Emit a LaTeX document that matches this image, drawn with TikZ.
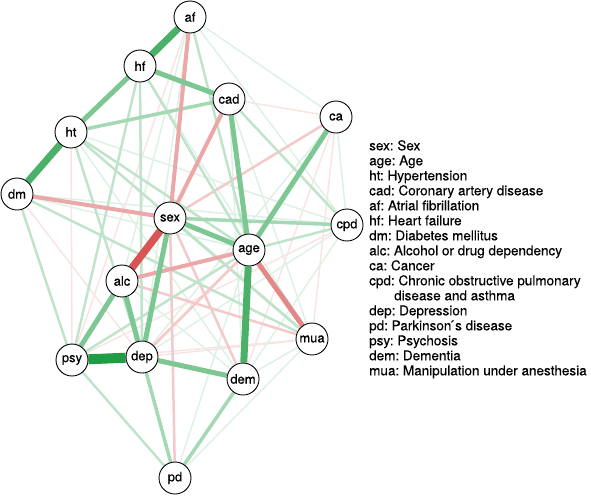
\documentclass[tikz,border=0pt]{standalone}
\usepackage{fontspec}
\setmainfont{TeX Gyre Heros}[FakeBold=0.35]
\frenchspacing
\usetikzlibrary{backgrounds}
\definecolor{pos}{RGB}{30,158,68}
\definecolor{neg}{RGB}{212,62,62}
\tikzset{
  var/.style={circle, draw, fill=white, line width=0.9pt, minimum size=32pt, inner sep=0pt, font=\fontsize{13}{14}\selectfont},
  p1/.style={draw=pos!14, line width=1.5pt},
  p2/.style={draw=pos!28, line width=2.5pt},
  p3/.style={draw=pos!40, line width=3.5pt},
  p4/.style={draw=pos!58, line width=5pt},
  p5/.style={draw=pos!80, line width=7pt},
  p6/.style={draw=pos, line width=10pt},
  n1/.style={draw=neg!14, line width=1.5pt},
  n2/.style={draw=neg!28, line width=2.5pt},
  n3/.style={draw=neg!45, line width=4pt},
  n4/.style={draw=neg!62, line width=5pt},
  n5/.style={draw=neg!88, line width=7.5pt}
}
\begin{document}
\begin{tikzpicture}[x=1pt,y=-1pt]
\useasboundingbox (0,0) rectangle (591,496);
\node[var] (af) at (190,17) {af};
\node[var] (hf) at (140,66) {hf};
\node[var] (cad) at (229,99) {cad};
\node[var] (ca) at (336,117) {ca};
\node[var] (ht) at (71,132) {ht};
\node[var] (dm) at (17,194) {dm};
\node[var] (sex) at (170,218) {sex};
\node[var] (cpd) at (347,225) {cpd};
\node[var] (age) at (249,250) {age};
\node[var] (alc) at (122,281) {alc};
\node[var] (mua) at (312,339) {mua};
\node[var] (psy) at (72,360) {psy};
\node[var] (dep) at (142,357) {dep};
\node[var] (dem) at (243,379) {dem};
\node[var] (pd) at (175,478) {pd};
\begin{scope}[on background layer]
\draw[n1] (cad) -- (ca);
\draw[n1] (ht) -- (psy);
\draw[n1] (dep) -- (mua);
\draw[n1] (psy) -- (mua);
\draw[n1] (af) -- (psy);
\draw[n1] (alc) -- (pd);
\draw[n1] (ca) -- (mua);
\draw[n1] (ca) -- (dem);
\draw[n1] (dm) -- (dep);
\draw[n1] (cpd) -- (psy);
\draw[p1] (af) -- (ca);
\draw[p1] (af) -- (cpd);
\draw[p1] (af) -- (dep);
\draw[p1] (af) -- (alc);
\draw[p1] (hf) -- (mua);
\draw[p1] (ht) -- (cpd);
\draw[p1] (dm) -- (age);
\draw[p1] (dm) -- (cpd);
\draw[p1] (cad) -- (mua);
\draw[p1] (cad) -- (dem);
\draw[p1] (ca) -- (dep);
\draw[p1] (ca) -- (cpd);
\draw[p1] (cpd) -- (dem);
\draw[p1] (cpd) -- (dep);
\draw[p1] (mua) -- (dem);
\draw[p1] (mua) -- (pd);
\draw[p1] (age) -- (pd);
\draw[p1] (alc) -- (dem);
\draw[p1] (ht) -- (dem);
\draw[n2] (alc) -- (mua);
\draw[n2] (sex) -- (dem);
\draw[n2] (ca) -- (sex);
\draw[n2] (sex) -- (pd);
\draw[p2] (af) -- (age);
\draw[p2] (hf) -- (age);
\draw[p2] (hf) -- (psy);
\draw[p2] (hf) -- (dep);
\draw[p2] (ht) -- (age);
\draw[p2] (ht) -- (mua);
\draw[p2] (ht) -- (dep);
\draw[p2] (dm) -- (psy);
\draw[p2] (dm) -- (mua);
\draw[p2] (cad) -- (cpd);
\draw[p2] (age) -- (psy);
\draw[p2] (sex) -- (mua);
\draw[p2] (psy) -- (pd);
\draw[p2] (age) -- (cpd);
\draw[p3] (ht) -- (cad);
\draw[p3] (sex) -- (cpd);
\draw[p3] (dep) -- (pd);
\draw[p3] (dem) -- (pd);
\draw[n2] (age) -- (dep);
\draw[n3] (af) -- (sex);
\draw[n3] (dm) -- (sex);
\draw[n3] (cad) -- (sex);
\draw[n3] (alc) -- (age);
\draw[p4] (sex) -- (age);
\draw[p4] (dep) -- (dem);
\draw[p4] (hf) -- (ht);
\draw[p4] (hf) -- (cad);
\draw[p4] (ca) -- (age);
\draw[p4] (cad) -- (age);
\draw[p4] (sex) -- (dep);
\draw[p4] (alc) -- (psy);
\draw[p4] (alc) -- (dep);
\draw[n4] (age) -- (mua);
\draw[n5] (sex) -- (alc);
\draw[p5] (af) -- (hf);
\draw[p5] (ht) -- (dm);
\draw[p5] (age) -- (dem);
\draw[p6] (psy) -- (dep);
\end{scope}
\node[anchor=north west, align=left, inner sep=0pt, font=\fontsize{13.5}{15}\selectfont] (legend) at (369,140) {sex: Sex\\
age: Age\\
ht: Hypertension\\
cad: Coronary artery disease\\
af: Atrial fibrillation\\
hf: Heart failure\\
dm: Diabetes mellitus\\
alc: Alcohol or drug dependency\\
ca: Cancer\\
cpd: Chronic obstructive pulmonary\\
\hspace*{25pt}disease and asthma\\
dep: Depression\\
pd: Parkinson\'{}s disease\\
psy: Psychosis\\
dem: Dementia\\
mua: Manipulation under anesthesia};
\end{tikzpicture}
\end{document}
